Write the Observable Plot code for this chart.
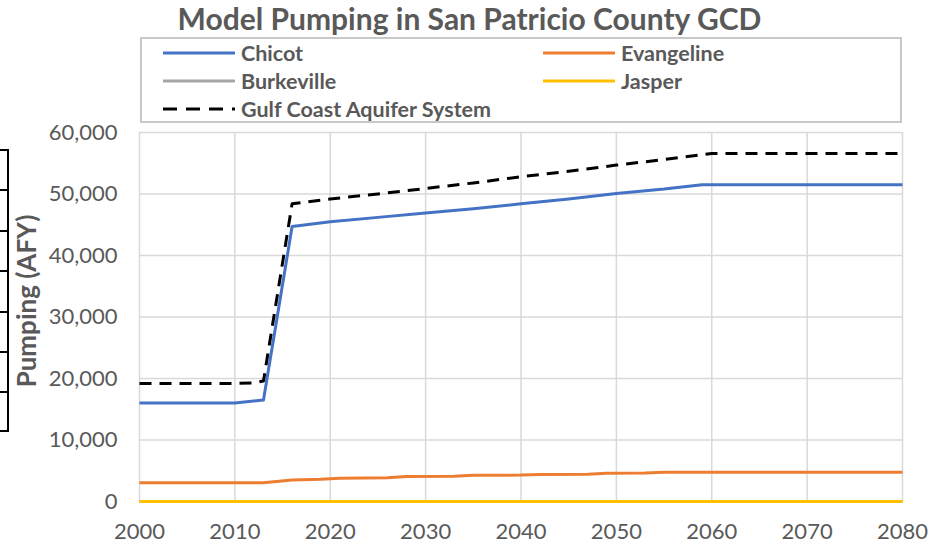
<!DOCTYPE html>
<html><head><meta charset="utf-8">
<script src="https://cdn.jsdelivr.net/npm/d3@7"></script>
<script src="https://cdn.jsdelivr.net/npm/@observablehq/plot@0.6"></script>
<style>
body{margin:0;background:#fff;font-family:Lato,"Open Sans",sans-serif;}
#wrap{position:relative;width:939px;height:546px;overflow:hidden;}
#header{position:relative;height:105px;}
#title{position:absolute;left:0;width:939px;top:0px;text-align:center;font-weight:700;font-size:30px;line-height:36px;color:#595959;white-space:nowrap;}
#legend{position:absolute;left:140px;top:37px;width:762px;height:86px;border:2px solid #c8c8c8;box-sizing:border-box;}
.item{position:absolute;display:flex;align-items:center;font-weight:700;font-size:21.5px;color:#595959;height:24px;white-space:nowrap;}
.item svg{margin-right:6px}
#tbl{position:absolute;left:0;top:149px;width:9px;}
#tbl div{height:40.4px;border-top:2px solid #000;border-right:2px solid #000;box-sizing:border-box;}
#tbl div:last-child{border-bottom:2px solid #000;}
#chart{position:absolute;left:0;top:105px;}
</style>
</head><body>
<div id="wrap">
  <div id="tbl"><div></div><div></div><div></div><div></div><div></div><div></div><div></div></div>
  <div id="header">
    <div id="title">Model Pumping in San Patricio County GCD</div>
    <div id="legend"></div>
  </div>
  <div id="chart"></div>
</div>
<script>
// ---- data ----
const xTicks = [2000, 2010, 2020, 2030, 2040, 2050, 2060, 2070, 2080];
const yTicks = [0, 10000, 20000, 30000, 40000, 50000, 60000];

const chicotYears  = [2000, 2010, 2013, 2016, 2020, 2025, 2030, 2035, 2040, 2045, 2050, 2055, 2059, 2080];
const chicotValues = [16000, 16000, 16500, 44700, 45500, 46200, 46900, 47600, 48400, 49200, 50100, 50800, 51500, 51500];

const evangelineYears  = [2000, 2013, 2016, 2019, 2021, 2026, 2028, 2033, 2035, 2040, 2042, 2047, 2049, 2053, 2055, 2080];
const evangelineValues = [3050, 3050, 3500, 3600, 3800, 3850, 4050, 4100, 4250, 4300, 4400, 4450, 4600, 4650, 4750, 4750];

const burkevilleYears  = [2000, 2080];
const burkevilleValues = [0, 0];

const jasperYears  = [2000, 2080];
const jasperValues = [0, 0];

const gcasYears  = [2000, 2010, 2012, 2013, 2016, 2020, 2025, 2030, 2035, 2040, 2045, 2050, 2055, 2060, 2080];
const gcasValues = [19200, 19200, 19300, 19600, 48400, 49200, 50000, 50900, 51800, 52800, 53700, 54700, 55600, 56600, 56600];

const seriesNames  = ["Chicot", "Evangeline", "Burkeville", "Jasper", "Gulf Coast Aquifer System"];
const seriesColors = ["#4472C4", "#ED7D31", "#A5A5A5", "#FFC000", "#000000"];
const seriesDash   = [null, null, null, null, "12,8"];
const seriesYears  = [chicotYears, evangelineYears, burkevilleYears, jasperYears, gcasYears];
const seriesValues = [chicotValues, evangelineValues, burkevilleValues, jasperValues, gcasValues];

// ---- legend (HTML) ----
const legend = document.getElementById("legend");
const legendPos = [[21, 2], [401, 2], [21, 30], [401, 30], [21, 58]];
seriesNames.forEach((name, i) => {
  const it = document.createElement("div");
  it.className = "item";
  it.style.left = legendPos[i][0] + "px";
  it.style.top = legendPos[i][1] + "px";
  const dash = seriesDash[i] ? `stroke-dasharray="14,9"` : "";
  it.innerHTML = `<svg width="72" height="6"><line x1="0" x2="72" y1="3" y2="3" stroke="${seriesColors[i]}" stroke-width="3" ${dash}/></svg><span>${name}</span>`;
  legend.appendChild(it);
});

// ---- chart ----
const data = seriesNames.flatMap((name, i) =>
  seriesYears[i].map((yr, j) => ({series: name, year: yr, value: seriesValues[i][j]})));

const order = ["Burkeville", "Jasper", "Evangeline", "Chicot", "Gulf Coast Aquifer System"];
const lineMarks = order.map(name => {
  const i = seriesNames.indexOf(name);
  return Plot.line(data.filter(d => d.series === name), {
    x: "year", y: "value", stroke: seriesColors[i], strokeWidth: 3,
    strokeDasharray: seriesDash[i] || undefined, strokeLinejoin: "round", strokeLinecap: "butt"
  });
});

const chart = Plot.plot({
  width: 939, height: 441,
  marginTop: 27, marginBottom: 45, marginLeft: 139, marginRight: 37,
  style: {fontFamily: "Lato, 'Open Sans', sans-serif", fontSize: "22px", color: "#595959", background: "transparent"},
  x: {domain: [2000, 2080]},
  y: {domain: [0, 60000]},
  marks: [
    Plot.gridX(xTicks, {stroke: "#d9d9d9", strokeOpacity: 1, strokeWidth: 1.5}),
    Plot.gridY(yTicks, {stroke: "#d9d9d9", strokeOpacity: 1, strokeWidth: 1.5}),
    Plot.axisX({ticks: xTicks, tickSize: 0, tickPadding: 22, tickFormat: d => String(d), label: null}),
    Plot.axisY({ticks: yTicks, tickSize: 0, tickPadding: 22, tickFormat: d3.format(","),
      label: "Pumping (AFY)", labelAnchor: "center", labelArrow: "none", labelOffset: 122}),
    ...lineMarks
  ]
});
d3.select(chart).selectAll('g[aria-label="y-axis label"] text')
  .attr("font-weight", "bold").attr("font-size", "26px").attr("dx", 16);
document.getElementById("chart").appendChild(chart);
</script>
</body></html>
